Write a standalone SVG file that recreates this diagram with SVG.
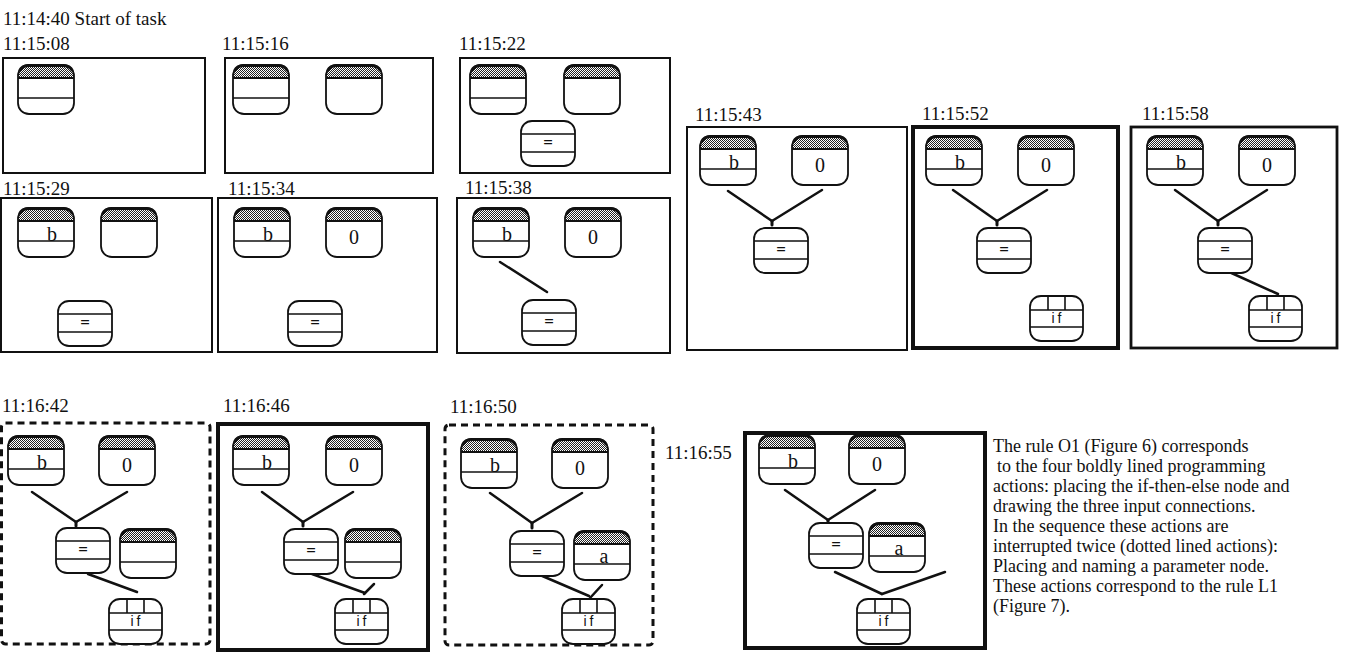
<svg xmlns="http://www.w3.org/2000/svg" width="1347" height="652" viewBox="0 0 1347 652">
<style>
  text{font-family:"Liberation Serif","Times New Roman",serif;fill:#111}
  .lbl{font-size:19px}
  .desc{font-size:18px}
  .nm{font-size:20px;text-anchor:middle}
  .sym{font-size:17px;text-anchor:middle;font-weight:bold}
  .ift{font-family:"Liberation Sans",Arial,sans-serif;font-size:14px;letter-spacing:3px;text-anchor:middle}
  .box{fill:none;stroke:#111;stroke-width:2}
  .bold{fill:none;stroke:#111;stroke-width:4}
  .mid{fill:none;stroke:#111;stroke-width:2.8}
  .dash{fill:none;stroke:#111;stroke-width:3;stroke-dasharray:7 5}
  .bg{fill:#fff}
  .ol{fill:none;stroke:#111;stroke-width:1.8}
  .hb{fill:url(#hatch)}
  .tk{fill:none;stroke:#111;stroke-width:3}
  .l2{stroke:#111;stroke-width:2.2}
  .l1{stroke:#111;stroke-width:1.6}
  .cn line{stroke:#111;stroke-width:2.5;stroke-linecap:round}
  .cn .nub{stroke-width:3}
</style>
<defs>
  <pattern id="hatch" width="2" height="2" patternUnits="userSpaceOnUse">
    <rect width="2" height="2" fill="#fff"/>
    <rect width="1" height="1" fill="#222"/>
    <rect x="1" y="1" width="1" height="1" fill="#222"/>
  </pattern>
  <g id="tP">
    <rect class="bg" x="1" y="1" width="56" height="49" rx="11"/>
    <path class="hb" d="M1,14 V12 Q1,1 12,1 H46 Q57,1 57,12 V14 Z"/>
    <rect class="ol" x="1" y="1" width="56" height="49" rx="11"/>
    <path class="tk" d="M2.5,7 Q5,1.5 12,1.5 H46 Q53,1.5 55.5,7"/>
    <path class="l2" d="M1,14 H57"/>
    <path class="l1" d="M1,34 H57"/>
  </g>
  <g id="tC">
    <rect class="bg" x="1" y="1" width="56" height="49" rx="11"/>
    <path class="hb" d="M1,14 V12 Q1,1 12,1 H46 Q57,1 57,12 V14 Z"/>
    <rect class="ol" x="1" y="1" width="56" height="49" rx="11"/>
    <path class="tk" d="M2.5,7 Q5,1.5 12,1.5 H46 Q53,1.5 55.5,7"/>
    <path class="l2" d="M1,14 H57"/>
  </g>
  <g id="tF">
    <rect class="bg" x="1" y="1" width="54" height="45" rx="11"/>
    <rect class="ol" x="1" y="1" width="54" height="45" rx="11"/>
    <path class="l1" d="M1,14 H55 M1,32 H55"/>
  </g>
  <g id="tI">
    <rect class="bg" x="1" y="1" width="53" height="45" rx="11"/>
    <rect class="ol" x="1" y="1" width="53" height="45" rx="11"/>
    <path class="l1" d="M1,15 H54 M1,32 H54 M19,1 V15 M36,1 V15"/>
  </g>
</defs>

<g id="header">
  <text class="lbl" x="3" y="25">11:14:40  Start of task</text>
</g>

<!-- Panel frames and time labels -->
<g id="panels">
  <text class="lbl" x="3" y="50">11:15:08</text>
  <rect class="box" x="3" y="58" width="202" height="115"/>
  <text class="lbl" x="222" y="50">11:15:16</text>
  <rect class="box" x="225" y="58" width="208" height="115"/>
  <text class="lbl" x="459" y="50">11:15:22</text>
  <rect class="box" x="460" y="58" width="210" height="115"/>

  <text class="lbl" x="3" y="195">11:15:29</text>
  <rect class="box" x="1" y="198" width="211" height="154"/>
  <text class="lbl" x="228" y="195">11:15:34</text>
  <rect class="box" x="218" y="198" width="219" height="154"/>
  <text class="lbl" x="465" y="194">11:15:38</text>
  <rect class="box" x="457" y="198" width="213" height="155"/>

  <text class="lbl" x="695" y="121">11:15:43</text>
  <rect class="box" x="687" y="127" width="220" height="223"/>
  <text class="lbl" x="922" y="120">11:15:52</text>
  <rect class="bold" x="913" y="127" width="205" height="221"/>
  <text class="lbl" x="1142" y="120">11:15:58</text>
  <rect class="mid" x="1131" y="127" width="206" height="221"/>

  <text class="lbl" x="2" y="412">11:16:42</text>
  <rect class="dash" x="1.5" y="423" width="208.5" height="221" rx="4"/>
  <text class="lbl" x="223" y="412">11:16:46</text>
  <rect class="bold" x="218" y="424" width="210" height="226"/>
  <text class="lbl" x="450" y="413">11:16:50</text>
  <rect class="dash" x="445" y="425" width="208" height="220" rx="4"/>
  <text class="lbl" x="665" y="459">11:16:55</text>
  <rect class="bold" x="745" y="433" width="240" height="215"/>
</g>

<!-- Connectors -->
<g id="connectors" class="cn">
  <line x1="500" y1="262" x2="547" y2="292"/>
  <line x1="728" y1="191" x2="772" y2="221"/><line x1="822" y1="190" x2="772" y2="221"/><line class="nub" x1="772" y1="221" x2="772" y2="225"/>
  <line x1="953" y1="190" x2="997" y2="221"/><line x1="1047" y1="190" x2="997" y2="221"/><line class="nub" x1="997" y1="221" x2="997" y2="225"/>
  <line x1="1175" y1="190" x2="1218" y2="221"/><line x1="1267" y1="190" x2="1218" y2="221"/><line class="nub" x1="1218" y1="221" x2="1218" y2="225"/>
  <line x1="1227" y1="271" x2="1278" y2="294"/>
  <line x1="32" y1="492" x2="76" y2="522"/><line x1="127" y1="492" x2="76" y2="522"/><line class="nub" x1="76" y1="522" x2="76" y2="526"/>
  <line x1="88" y1="574" x2="137" y2="592"/>
  <line x1="262" y1="492" x2="303" y2="522"/><line x1="353" y1="492" x2="303" y2="522"/><line class="nub" x1="303" y1="522" x2="303" y2="526"/>
  <line x1="312" y1="574" x2="365" y2="593"/><line x1="374" y1="584" x2="364" y2="594"/>
  <line x1="490" y1="493" x2="532" y2="523"/><line x1="582" y1="493" x2="532" y2="523"/><line class="nub" x1="532" y1="523" x2="532" y2="528"/>
  <line x1="540" y1="575" x2="589" y2="596"/><line x1="602" y1="585" x2="590" y2="598"/>
  <line x1="785" y1="490" x2="828" y2="520"/><line x1="875" y1="490" x2="828" y2="520"/><line class="nub" x1="828" y1="520" x2="828" y2="523"/>
  <line x1="835" y1="572" x2="882" y2="594"/><line x1="945" y1="572" x2="882" y2="594"/>
</g>

<!-- Row 1 -->
<g id="n1-p"><use href="#tP" x="17" y="64"/></g>
<g id="n2-p"><use href="#tP" x="232" y="64"/></g>
<g id="n2-c"><use href="#tC" x="325" y="64"/></g>
<g id="n3-p"><use href="#tP" x="469" y="64"/></g>
<g id="n3-c"><use href="#tC" x="563" y="64"/></g>
<g id="n3-f"><use href="#tF" x="520" y="120"/><text class="sym" x="548" y="148">=</text></g>

<!-- Row 2 -->
<g id="n4-b"><use href="#tP" x="17" y="207"/><text class="nm" x="52" y="241">b</text></g>
<g id="n4-c"><use href="#tC" x="100" y="207"/></g>
<g id="n4-f"><use href="#tF" x="57" y="300"/><text class="sym" x="85" y="328">=</text></g>

<g id="n5-b"><use href="#tP" x="233" y="207"/><text class="nm" x="268" y="241">b</text></g>
<g id="n5-0"><use href="#tC" x="325" y="207"/><text class="nm" x="354" y="244">0</text></g>
<g id="n5-f"><use href="#tF" x="287" y="300"/><text class="sym" x="315" y="328">=</text></g>

<g id="n6-b"><use href="#tP" x="472" y="207"/><text class="nm" x="507" y="241">b</text></g>
<g id="n6-0"><use href="#tC" x="564" y="207"/><text class="nm" x="593" y="244">0</text></g>
<g id="n6-f"><use href="#tF" x="521" y="299"/><text class="sym" x="549" y="327">=</text></g>

<g id="n7-b"><use href="#tP" x="699" y="135"/><text class="nm" x="734" y="169">b</text></g>
<g id="n7-0"><use href="#tC" x="791" y="135"/><text class="nm" x="820" y="172">0</text></g>
<g id="n7-f"><use href="#tF" x="753" y="227"/><text class="sym" x="781" y="255">=</text></g>

<g id="n8-b"><use href="#tP" x="925" y="135"/><text class="nm" x="960" y="169">b</text></g>
<g id="n8-0"><use href="#tC" x="1017" y="135"/><text class="nm" x="1046" y="172">0</text></g>
<g id="n8-f"><use href="#tF" x="976" y="227"/><text class="sym" x="1004" y="255">=</text></g>
<g id="n8-if"><use href="#tI" x="1029" y="295"/><text class="ift" x="1058" y="323">if</text></g>

<g id="n9-b"><use href="#tP" x="1146" y="135"/><text class="nm" x="1181" y="169">b</text></g>
<g id="n9-0"><use href="#tC" x="1238" y="135"/><text class="nm" x="1267" y="172">0</text></g>
<g id="n9-f"><use href="#tF" x="1197" y="227"/><text class="sym" x="1225" y="255">=</text></g>
<g id="n9-if"><use href="#tI" x="1248" y="295"/><text class="ift" x="1277" y="323">if</text></g>

<!-- Row 3 -->
<g id="n10-b"><use href="#tP" x="7" y="435"/><text class="nm" x="42" y="469">b</text></g>
<g id="n10-0"><use href="#tC" x="98" y="435"/><text class="nm" x="127" y="472">0</text></g>
<g id="n10-f"><use href="#tF" x="55" y="527"/><text class="sym" x="83" y="555">=</text></g>
<g id="n10-p"><use href="#tP" x="119" y="528"/></g>
<g id="n10-if"><use href="#tI" x="108" y="598"/><text class="ift" x="137" y="626">if</text></g>

<g id="n11-b"><use href="#tP" x="232" y="435"/><text class="nm" x="267" y="469">b</text></g>
<g id="n11-0"><use href="#tC" x="325" y="435"/><text class="nm" x="354" y="472">0</text></g>
<g id="n11-f"><use href="#tF" x="283" y="528"/><text class="sym" x="311" y="556">=</text></g>
<g id="n11-p"><use href="#tP" x="344" y="528"/></g>
<g id="n11-if"><use href="#tI" x="334" y="598"/><text class="ift" x="363" y="626">if</text></g>

<g id="n12-b"><use href="#tP" x="460" y="438"/><text class="nm" x="495" y="472">b</text></g>
<g id="n12-0"><use href="#tC" x="551" y="438"/><text class="nm" x="580" y="475">0</text></g>
<g id="n12-f"><use href="#tF" x="509" y="530"/><text class="sym" x="537" y="558">=</text></g>
<g id="n12-a"><use href="#tP" x="573" y="530"/><text class="nm" x="604" y="563">a</text></g>
<g id="n12-if"><use href="#tI" x="561" y="598"/><text class="ift" x="590" y="626">if</text></g>

<g id="n13-b"><use href="#tP" x="758" y="434"/><text class="nm" x="793" y="468">b</text></g>
<g id="n13-0"><use href="#tC" x="848" y="434"/><text class="nm" x="877" y="471">0</text></g>
<g id="n13-f"><use href="#tF" x="808" y="522"/><text class="sym" x="836" y="550">=</text></g>
<g id="n13-a"><use href="#tP" x="868" y="522"/><text class="nm" x="899" y="555">a</text></g>
<g id="n13-if"><use href="#tI" x="856" y="598"/><text class="ift" x="885" y="626">if</text></g>

<g id="description">
  <text class="desc" x="993" y="452">The rule O1 (Figure 6) corresponds</text>
  <text class="desc" x="997" y="472">to the four boldly lined programming</text>
  <text class="desc" x="993" y="492">actions: placing the if-then-else node and</text>
  <text class="desc" x="993" y="512">drawing the three input connections.</text>
  <text class="desc" x="993" y="532">In the sequence these actions are</text>
  <text class="desc" x="993" y="552">interrupted twice (dotted lined actions):</text>
  <text class="desc" x="993" y="572">Placing and naming a parameter node.</text>
  <text class="desc" x="993" y="592">These actions correspond to the rule L1</text>
  <text class="desc" x="993" y="612">(Figure 7).</text>
</g>
</svg>
